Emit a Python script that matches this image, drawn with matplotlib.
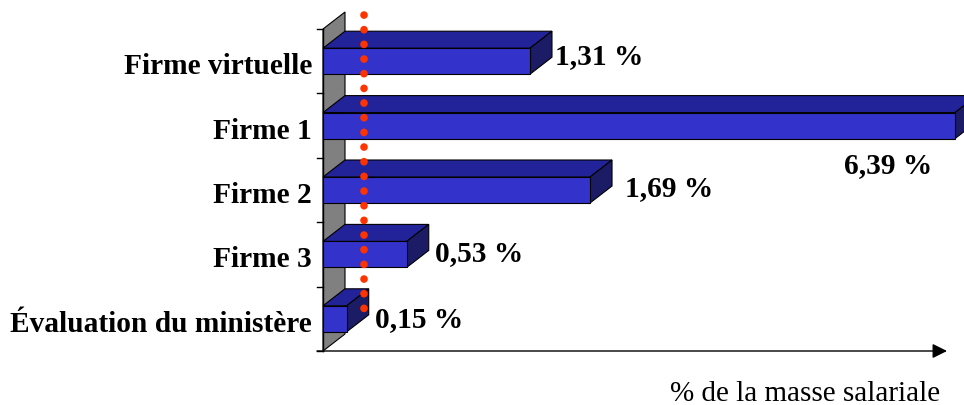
import matplotlib
matplotlib.use("Agg")
import matplotlib.pyplot as plt
from matplotlib.patches import Polygon

plt.rcParams['font.family'] = ['Liberation Serif', 'DejaVu Serif']

categories = ["Firme virtuelle", "Firme 1", "Firme 2", "Firme 3", "Évaluation du ministère"]
values = [1.31, 6.39, 1.69, 0.53, 0.15]
value_labels = ["1,31 %", "6,39 %", "1,69 %", "0,53 %", "0,15 %"]
xlabel = "% de la masse salariale"
x_max = 4.0          # axis is cut at 4 %, Firme 1 overflows
ref_value = 0.26     # red dotted reference line

# layout in pixels
W, H = 964, 406
X0, PX = 323, 158          # x=0 position, pixels per unit
Y0, STEP = 62.2, 64.4      # first category centre, category spacing
DX, DY = 22 / PX, -17 / STEP
HALF = 13 / STEP

fig = plt.figure(figsize=(W / 100, H / 100), dpi=100)
ax = fig.add_axes([0, 0, 1, 1])
ax.set_xlim(-X0 / PX, (W - X0) / PX)
ax.set_ylim((H - Y0) / STEP, -Y0 / STEP)
ax.axis("off")

n = len(categories)
top, bot = -0.5, n - 0.5

# back wall
ax.add_patch(Polygon([(0, bot), (0, top), (DX, top + DY), (DX, bot + DY)],
                     closed=True, facecolor="#808080", edgecolor="black", lw=0.8, zorder=1))

# left axis + ticks
ax.plot([0, 0], [top, bot], color="black", lw=1, zorder=2)
for k in range(n + 1):
    ax.plot([-6 / PX, 0], [top + k, top + k], color="black", lw=1, zorder=2)

# bottom axis with arrow
ax.annotate("", xy=(624 / PX, bot), xytext=(-6 / PX, bot),
            arrowprops=dict(arrowstyle="-|>", color="black", lw=1,
                            mutation_scale=22, shrinkA=0, shrinkB=0), zorder=2)

# 3D bars
front_c, top_c, side_c = "#3333CC", "#232399", "#1C1C66"
for i, v in enumerate(values):
    x1 = min(v, x_max)
    y1, y2 = i - HALF, i + HALF
    ax.add_patch(Polygon([(0, y1), (DX, y1 + DY), (x1 + DX, y1 + DY), (x1, y1)],
                         facecolor=top_c, edgecolor="black", lw=0.8, zorder=3))
    ax.add_patch(Polygon([(x1, y1), (x1 + DX, y1 + DY), (x1 + DX, y2 + DY), (x1, y2)],
                         facecolor=side_c, edgecolor="black", lw=0.8, zorder=3))
    ax.add_patch(Polygon([(0, y1), (x1, y1), (x1, y2), (0, y2)],
                         facecolor=front_c, edgecolor="black", lw=0.8, zorder=4))

# red dotted reference line
ax.plot([ref_value, ref_value], [-0.72, 4.05], color="#FF3300", lw=5.5,
        linestyle=(0, (0.01, 1.91)), dash_capstyle="round", zorder=5)

# category labels
for i, c in enumerate(categories):
    ax.text(-11 / PX, i + 12 / STEP, c, ha="right", va="baseline",
            fontsize=21.2, fontweight="bold")

# value labels (pixel offsets from bar end / category centre)
offsets = [(3, 2), None, (13, 5), (6, 6), (6, 7)]
for i, (v, lab) in enumerate(zip(values, value_labels)):
    if offsets[i] is None:
        ax.text(565 / PX, i + 46 / STEP, lab, ha="center", va="baseline",
                fontsize=21.2, fontweight="bold")
    else:
        ox, oy = offsets[i]
        ax.text(min(v, x_max) + DX + ox / PX, i + oy / STEP, lab, ha="left",
                va="baseline", fontsize=21.2, fontweight="bold")

ax.text(617 / PX, bot + 49 / STEP, xlabel, ha="right", va="baseline", fontsize=21)

fig.savefig("out.png", dpi=100)
